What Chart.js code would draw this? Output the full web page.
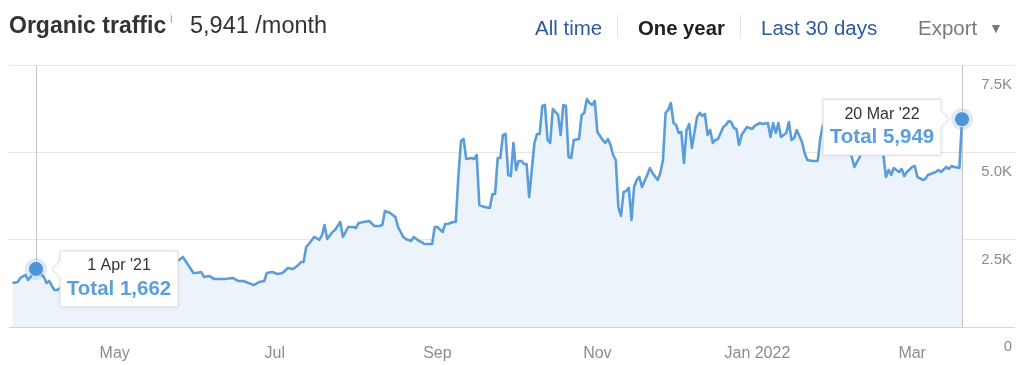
<!DOCTYPE html>
<html><head><meta charset="utf-8">
<script src="https://cdn.jsdelivr.net/npm/chart.js@4.4.0/dist/chart.umd.min.js"></script>
<style>
html,body{margin:0;padding:0;background:#fff;width:1024px;height:365px;overflow:hidden;font-family:"Liberation Sans",Arial,Helvetica,sans-serif;}
#wrap{position:absolute;left:0;top:0;width:1024px;height:365px;}
canvas{position:absolute;left:0;top:0;}
.t{position:absolute;white-space:nowrap;z-index:2;}
.sep{position:absolute;top:15px;width:1px;height:23px;background:#e6e6e6;z-index:2;}
</style></head><body>
<div id="wrap"><canvas id="c" width="1024" height="365"></canvas></div>
<div class="t" style="left:9px;top:14px;font-size:23px;line-height:23px;font-weight:bold;color:#333">Organic traffic</div>
<div class="t" style="left:170px;top:13px;font-size:12px;line-height:12px;color:#aaa">i</div>
<div class="t" style="left:190px;top:14px;font-size:23.5px;line-height:23px;color:#333">5,941 /month</div>
<div class="t" style="left:535px;top:18px;font-size:20.5px;line-height:20px;color:#2c5aa0">All time</div>
<div class="sep" style="left:617px"></div>
<div class="t" style="left:638px;top:18px;font-size:20.3px;line-height:20px;font-weight:bold;color:#222">One year</div>
<div class="sep" style="left:740px"></div>
<div class="t" style="left:761px;top:18px;font-size:20.5px;line-height:20px;color:#2c5aa0">Last 30 days</div>
<div class="t" style="left:918px;top:18px;font-size:20.5px;line-height:20px;color:#7a7a7a">Export</div>
<div class="t" style="left:989px;top:21px;font-size:14px;line-height:14px;color:#7a7a7a">▼</div>
<script>
// days since 1 Apr 2021
const days = [
 -9,-7,-6,-4,-3,-1,0,3,4,5,
 7,8,10,14,18,22,26,30,34,38,
 42,46,50,54,56,58,60,61,63,64,
 66,68,70,72,75,77,79,81,83,85,
 87,88,90,92,94,96,98,100,101,102,
 103,104,106,108,109,110,111,113,114,116,
 117,119,121,122,123,125,127,129,131,132,
 133,135,136,137,138,140,141,143,144,146,
 147,148,151,152,153,155,156,157,159,160,
 161,162,163,164,166,167,168,169,171,173,
 174,175,176,177,178,179,180,181,182,183,
 184,185,186,187,188,189,190,191,192,193,
 194,195,196,197,199,200,201,202,203,204,
 205,207,208,209,210,211,212,213,214,216,
 217,218,219,220,221,222,223,224,225,226,
 227,228,229,230,231,233,234,235,237,238,
 239,240,241,242,243,244,245,246,247,248,
 249,250,252,253,254,255,256,257,258,259,
 260,262,263,264,265,266,267,268,269,271,
 273,274,276,277,279,280,281,282,283,284,
 286,287,288,289,290,292,293,294,296,298,
 299,300,302,305,307,311,312,314,316,318,
 320,322,323,324,325,326,327,329,330,331,
 332,334,335,336,338,339,340,342,343,344,
 345,347,348,349,350,352,353
];
const traffic = [
 1260,1288,1403,1489,1346,1546,1662,1432,1260,1317,
 1059,1059,1150,1250,1200,1300,1350,1300,1400,1450,
 1400,1500,1650,1890,2004,1775,1546,1546,1575,1432,
 1460,1374,1374,1374,1403,1317,1317,1260,1202,1288,
 1317,1546,1575,1517,1546,1689,1661,1775,1861,1861,
 2290,2376,2577,2491,2634,2920,2519,2720,2777,3006,
 2577,2863,2863,2834,2978,3006,3035,2892,2892,2920,
 3321,3264,3207,3149,2863,2577,2519,2462,2577,2462,
 2434,2376,2376,2863,2863,2720,2949,2949,3006,3006,
 4295,5325,5382,4810,4838,4810,4924,3493,3436,3407,
 3808,3808,4838,4838,5497,5526,4352,4323,5268,4495,
 4753,4753,4667,4667,3722,4495,5268,5526,5526,6327,
 6356,5354,5268,6241,6070,5497,6356,6327,4867,4838,
 5354,5382,6070,6127,6528,6413,6356,6470,5583,5354,
 5268,5382,5211,4924,4781,3436,3178,3865,3894,3980,
 3063,4008,4209,4295,4008,4352,4552,4409,4209,4409,
 4781,6127,6213,6413,5841,5783,5554,5583,4695,5640,
 5812,5125,6012,6127,6041,6098,5497,5640,5268,5354,
 5382,5726,5783,5898,5869,5697,5669,5211,5497,5726,
 5669,5755,5841,5812,5841,5440,5841,5554,5841,5440,
 5554,5869,5354,5411,5640,5297,4982,4781,4753,4753,
 5411,5783,5700,5600,5450,4867,4581,4867,5500,5650,
 5600,5450,4950,4295,4495,4352,4552,4438,4524,4323,
 4438,4581,4609,4295,4209,4237,4352,4409,4438,4495,
 4438,4581,4524,4609,4581,4552,5949
];
const monthTickDays = [30, 91, 153, 214, 275, 334];
const monthTickLabels = ['May', 'Jul', 'Sep', 'Nov', 'Jan 2022', 'Mar'];
const yTickValues = [0, 2500, 5000, 7500];
const yTickLabels = ['0', '2.5K', '5.0K', '7.5K'];
const markerDays = [0, 353];
const markerDates = ["1 Apr '21", "20 Mar '22"];
const xRange = [-10.3, 373.2];

const FONT = '"Liberation Sans", Arial, Helvetica, sans-serif';

const overlay = {
  id: 'overlay',
  beforeDatasetsDraw(chart) {
    const c = chart.ctx, a = chart.chartArea, xs = chart.scales.x;
    c.save();
    c.strokeStyle = '#dedede'; c.lineWidth = 1;
    monthTickDays.forEach(d => {
      const px = Math.round(xs.getPixelForValue(d)) + 0.5;
      c.beginPath(); c.moveTo(px, a.bottom - 10); c.lineTo(px, a.bottom); c.stroke();
    });
    c.strokeStyle = '#c4c4c4';
    markerDays.forEach(d => {
      const px = Math.round(xs.getPixelForValue(d)) + 0.5;
      c.beginPath(); c.moveTo(px, a.top); c.lineTo(px, a.bottom); c.stroke();
    });
    c.restore();
  },
  afterDatasetsDraw(chart) {
    const c = chart.ctx, meta = chart.getDatasetMeta(0);
    markerDays.forEach((d, k) => {
      const i = days.indexOf(d);
      const pt = meta.data[i];
      const px = pt.x, py = pt.y;
      c.save();
      c.beginPath(); c.arc(px, py, 11, 0, Math.PI * 2);
      c.fillStyle = 'rgba(120,170,220,0.25)'; c.fill();
      c.beginPath(); c.arc(px, py, 7.5, 0, Math.PI * 2);
      c.fillStyle = '#4f93d8'; c.fill();
      c.lineWidth = 1; c.strokeStyle = 'rgba(255,255,255,0.7)'; c.stroke();
      const w = 118, h = 56;
      let bx, by, tipX;
      if (k === 0) { bx = px + 24; by = py - 18; tipX = bx - 8; }
      else { bx = px - 21 - w; by = py - 20; tipX = bx + w + 8; }
      c.beginPath();
      if (k === 0) {
        c.moveTo(bx, by); c.lineTo(bx + w, by); c.lineTo(bx + w, by + h); c.lineTo(bx, by + h);
        c.lineTo(bx, py + 8); c.lineTo(tipX, py); c.lineTo(bx, py - 8); c.closePath();
      } else {
        c.moveTo(bx, by); c.lineTo(bx + w, by); c.lineTo(bx + w, py - 8); c.lineTo(tipX, py);
        c.lineTo(bx + w, py + 8); c.lineTo(bx + w, by + h); c.lineTo(bx, by + h); c.closePath();
      }
      c.shadowColor = 'rgba(0,0,0,0.10)'; c.shadowBlur = 4;
      c.fillStyle = '#ffffff'; c.fill();
      c.shadowColor = 'transparent';
      c.strokeStyle = '#dcdcdc'; c.lineWidth = 1; c.stroke();
      c.textAlign = 'center'; c.textBaseline = 'middle';
      c.fillStyle = '#333'; c.font = '16px ' + FONT;
      c.fillText(markerDates[k], bx + w / 2, by + 15);
      c.fillStyle = '#5a9fdc'; c.font = 'bold 20.5px ' + FONT;
      c.fillText('Total ' + traffic[i].toLocaleString('en-US'), bx + w / 2, by + 38);
      c.restore();
    });
  }
};

new Chart(document.getElementById('c'), {
  type: 'line',
  data: {
    datasets: [{
      data: days.map((d, i) => ({ x: d, y: traffic[i] })),
      borderColor: '#5b9dd9',
      borderWidth: 2.6,
      backgroundColor: '#edf3fa',
      fill: 'origin',
      pointRadius: 0,
      tension: 0,
      borderJoinStyle: 'round'
    }]
  },
  options: {
    responsive: false,
    animation: false,
    layout: { padding: { left: 9, right: 9, top: 65, bottom: 0 } },
    plugins: { legend: { display: false }, tooltip: { enabled: false } },
    scales: {
      x: {
        type: 'linear', min: xRange[0], max: xRange[1],
        grid: { display: false }, border: { display: false },
        afterBuildTicks: s => { s.ticks = monthTickDays.map(v => ({ value: v })); },
        afterFit: s => { s.height = 38; },
        ticks: {
          autoSkip: false, maxRotation: 0, padding: 9,
          color: '#8c8c8c', font: { size: 16, family: FONT },
          callback: v => monthTickLabels[monthTickDays.indexOf(v)]
        }
      },
      y: {
        position: 'right', min: 0, max: 7500,
        afterBuildTicks: s => { s.ticks = yTickValues.map(v => ({ value: v })); },
        afterFit: s => { s.width = 0; },
        grid: { color: ctx => (ctx.tick && ctx.tick.value === 0) ? '#d4d4d4' : '#e6e6e6', drawTicks: false, lineWidth: 1 },
        border: { display: false },
        ticks: {
          mirror: true, labelOffset: 20, padding: -3,
          color: '#8c8c8c', font: { size: 15, family: FONT },
          callback: v => yTickLabels[yTickValues.indexOf(v)]
        }
      }
    }
  },
  plugins: [overlay]
});
</script>
</body></html>
